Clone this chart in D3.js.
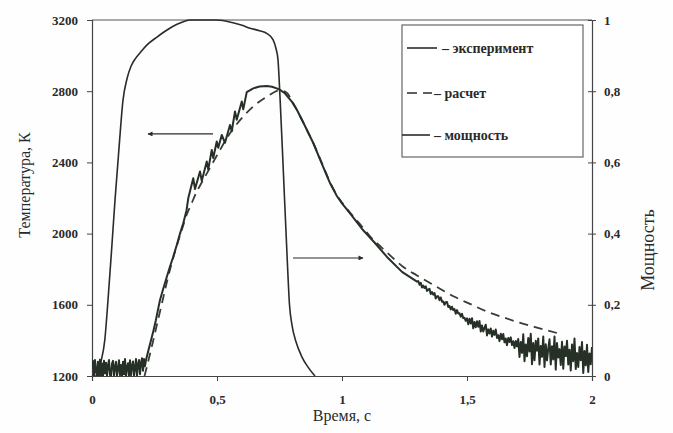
<!DOCTYPE html>
<html><head><meta charset="utf-8">
<script src="https://cdn.jsdelivr.net/npm/d3@7"></script>
<style>body{margin:0;background:#fff}svg{display:block}text{font-family:"Liberation Serif","Times New Roman",serif;fill:#2a2a2a}</style>
</head><body><svg id="c" width="673" height="433"></svg>
<script>
// ---- data ----
const xTicks = [0, 0.5, 1, 1.5, 2];
const tempTicks = [1200, 1600, 2000, 2400, 2800, 3200];
const powerTicks = [0, 0.2, 0.4, 0.6, 0.8, 1];

// power (right axis)
const powerT = [0, 0.024, 0.036, 0.051, 0.064, 0.078, 0.092, 0.108, 0.124, 0.14, 0.156, 0.175, 0.195, 0.22, 0.26, 0.3, 0.34, 0.365, 0.392, 0.45, 0.5, 0.56, 0.6, 0.632, 0.67, 0.7, 0.724, 0.736, 0.744, 0.752, 0.766, 0.781, 0.79, 0.8, 0.816, 0.84, 0.864, 0.892];
const powerV = [0, 0, 0.04, 0.1, 0.213, 0.35, 0.494, 0.64, 0.775, 0.835, 0.87, 0.893, 0.91, 0.93, 0.952, 0.972, 0.988, 0.995, 1.0, 1.0, 1.0, 0.993, 0.985, 0.977, 0.97, 0.962, 0.945, 0.92, 0.888, 0.784, 0.565, 0.326, 0.2, 0.143, 0.096, 0.053, 0.025, 0];

// experiment: start noise (t = 0 .. 0.216, step 0.004)
const expStartNoise = [1240,1285,1200,1290,1230,1195,1280,1205,1292,1200,1270,1195,1285,1215,1275,1195,1260,1290,1205,1195,1270,1285,1200,1250,1280,1195,1240,1288,1205,1262,1195,1280,1210,1295,1198,1250,1272,1195,1288,1205,1258,1282,1200,1245,1295,1195,1265,1290,1210,1275,1300,1230,1295,1255,1290];
// experiment: rise, peak and decline (explicit t, T)
const expMidT = [0.225,0.235,0.245,0.255,0.265,0.272,0.285,0.3,0.312,0.325,0.34,0.352,0.365,0.378,0.385,0.405,0.412,0.432,0.439,0.459,0.465,0.479,0.485,0.499,0.505,0.519,0.532,0.552,0.559,0.572,0.579,0.599,0.605,0.619,0.645,0.67,0.699,0.72,0.739,0.752,0.77,0.8,0.82,0.85,0.885,0.92,0.952,0.98,1.0,1.04,1.084,1.13,1.18,1.24,1.28];
const expMidV = [1340,1395,1450,1510,1580,1627,1690,1760,1815,1870,1940,2000,2058,2130,2198,2311,2250,2349,2296,2405,2360,2470,2425,2517,2482,2554,2510,2610,2575,2686,2640,2742,2698,2795,2816,2826,2829,2825,2816,2807,2790,2740,2694,2610,2509,2390,2284,2210,2170,2100,2020,1950,1869,1785,1748];
// experiment: noisy tail (t = 1.300 .. 2.000, step 0.005)
const expTail = [1730,1733,1713,1724,1697,1708,1694,1704,1678,1685,1690,1661,1672,1657,1666,1635,1648,1648,1626,1641,1617,1619,1600,1614,1616,1588,1593,1574,1589,1570,1576,1550,1570,1551,1552,1533,1550,1525,1527,1510,1524,
1490,1522,1495,1525,1468,1503,1474,1508,1477,1509,1450,1484,1450,1470,1488,1428,1462,1439,1467,1422,1454,1431,1461,1414,1429,1396,1437,1406,1436,1389,1411,1373,1414,1391,1417,1374,1395,1357,1397,1366,
1408,1307,1391,1330,1434,1283,1377,1311,1414,1338,1437,1266,1385,1289,1398,1342,1411,1265,1369,1308,1422,1251,1379,1288,1352,1406,1265,1367,1293,1422,1236,1385,1304,1351,1262,1392,1241,1366,1312,1398,1265,1348,1231,1377,1283,1410,1239,1329,1251,1363,1289,1391,1217,1341,1260,1375,1223,1327,1266,1363];

// calculation (dashed)
const calcT = [0.21,0.22,0.24,0.26,0.28,0.3,0.32,0.34,0.36,0.38,0.4,0.412,0.44,0.46,0.5,0.55,0.6,0.65,0.7,0.752,0.78,0.8,0.82,0.85,0.885,0.92,0.95,0.98,1.0,1.04,1.08,1.112,1.16,1.2,1.244,1.3,1.38,1.45,1.512,1.58,1.644,1.71,1.78,1.864];
const calcV = [1200,1255,1370,1490,1610,1730,1840,1935,2025,2110,2175,2215,2290,2340,2440,2560,2650,2720,2770,2805,2790,2745,2694,2610,2509,2395,2295,2215,2175,2105,2040,1985,1920,1868,1814,1765,1700,1645,1605,1562,1530,1500,1472,1440];

// annotation arrows (data coords: t, T)
const arrowFrom = [[0.484, 2560], [0.804, 1863]];
const arrowTo   = [[0.224, 2560], [1.084, 1863]];

const legendLabels = ["– эксперимент", "– расчет", "– мощность"];

// ---- build ----
const svg = d3.select("#c");
const ink = "#2b2b2b";
const L = 92, R = 592, T = 20, B = 376;
const x = d3.scaleLinear().domain([0, 2]).range([L, R]);
const yT = d3.scaleLinear().domain([1200, 3200]).range([B, T]);
const yP = d3.scaleLinear().domain([0, 1]).range([B, T]);
const fmt = d => String(d).replace(".", ",");

svg.append("rect").attr("width", 673).attr("height", 433).attr("fill", "#fefefe");

// top border
svg.append("line").attr("x1", L).attr("x2", R).attr("y1", T).attr("y2", T).attr("stroke", "#555").attr("stroke-width", 1);

// axes
const gx = svg.append("g").attr("transform", `translate(0,${B})`)
  .call(d3.axisBottom(x).tickValues(xTicks).tickFormat(fmt).tickSize(5).tickPadding(14));
const gl = svg.append("g").attr("transform", `translate(${L},0)`)
  .call(d3.axisLeft(yT).tickValues(tempTicks).tickFormat(d => d).tickSize(5).tickPadding(9));
const gr = svg.append("g").attr("transform", `translate(${R},0)`)
  .call(d3.axisRight(yP).tickValues(powerTicks).tickFormat(fmt).tickSize(4).tickPadding(8));
gr.selectAll(".tick line").attr("x1", -4);
[gx, gl, gr].forEach(g => {
  g.selectAll("path.domain").attr("stroke", "#444").attr("stroke-width", 1.2);
  g.selectAll(".tick line").attr("stroke", "#444");
  g.selectAll("text").style("font-family", '"Liberation Serif",serif').style("font-size", "13px").style("font-weight", "bold").attr("fill", "#3a3a3a");
});

// axis titles
svg.append("text").attr("transform", "translate(30,185) rotate(-90)").attr("text-anchor", "middle")
  .style("font-size", "16px").text("Температура, К");
svg.append("text").attr("x", 342).attr("y", 421).attr("text-anchor", "middle")
  .style("font-size", "16px").text("Время, с");
svg.append("text").attr("transform", "translate(654,250) rotate(-90)").attr("text-anchor", "middle")
  .style("font-size", "18px").text("Мощность");

// clip
svg.append("clipPath").attr("id", "clip").append("rect").attr("x", L).attr("y", T - 2).attr("width", R - L).attr("height", B - T + 2);
const plot = svg.append("g").attr("clip-path", "url(#clip)");

// series assembly
const expData = [];
expStartNoise.forEach((v, i) => expData.push([i * 0.004, v]));
expMidT.forEach((t, i) => expData.push([t, expMidV[i]]));
expTail.forEach((v, i) => expData.push([1.3 + i * 0.005, v]));
const calcData = calcT.map((t, i) => [t, calcV[i]]);
const powData = powerT.map((t, i) => [t, powerV[i]]);

const lineT = d3.line().x(d => x(d[0])).y(d => yT(Math.max(1200, d[1])));
const lineP = d3.line().x(d => x(d[0])).y(d => yP(d[1])).curve(d3.curveMonotoneX);
const lineC = d3.line().x(d => x(d[0])).y(d => yT(d[1])).curve(d3.curveMonotoneX);

plot.append("path").datum(powData).attr("d", lineP).attr("fill", "none").attr("stroke", ink).attr("stroke-width", 1.6);
plot.append("path").datum(calcData).attr("d", lineC).attr("fill", "none").attr("stroke", "#3a3a3a").attr("stroke-width", 1.8).attr("stroke-dasharray", "9,6");
plot.append("path").datum(expData).attr("d", lineT).attr("fill", "none").attr("stroke", "#263026").attr("stroke-width", 2).attr("stroke-linejoin", "round");

// arrows
const defs = svg.append("defs");
defs.append("marker").attr("id", "ah").attr("viewBox", "0 0 10 10").attr("refX", 9).attr("refY", 5)
  .attr("markerWidth", 7).attr("markerHeight", 5).attr("markerUnits", "userSpaceOnUse").attr("orient", "auto")
  .append("path").attr("d", "M0,0L10,5L0,10z").attr("fill", ink);
arrowFrom.forEach((f, i) => {
  svg.append("line").attr("x1", x(f[0])).attr("y1", yT(f[1])).attr("x2", x(arrowTo[i][0])).attr("y2", yT(arrowTo[i][1]))
    .attr("stroke", ink).attr("stroke-width", 1.2).attr("marker-end", "url(#ah)");
});

// legend
const lg = svg.append("g");
lg.append("rect").attr("x", 402).attr("y", 25).attr("width", 181).attr("height", 132).attr("fill", "#fff").attr("stroke", "#666").attr("stroke-width", 1.2);
const rows = [48, 93, 135];
lg.append("line").attr("x1", 407).attr("x2", 437).attr("y1", rows[0]).attr("y2", rows[0]).attr("stroke", ink).attr("stroke-width", 1.6);
lg.append("line").attr("x1", 407).attr("x2", 432).attr("y1", rows[1]).attr("y2", rows[1]).attr("stroke", ink).attr("stroke-width", 1.6).attr("stroke-dasharray", "10,6");
lg.append("line").attr("x1", 402).attr("x2", 430).attr("y1", rows[2]).attr("y2", rows[2]).attr("stroke", ink).attr("stroke-width", 1.6);
const lx = [442, 434, 434];
legendLabels.forEach((s, i) => {
  lg.append("text").attr("x", lx[i]).attr("y", rows[i] + 4.5).style("font-size", "14px").style("font-weight", "bold").attr("fill", "#333").text(s);
});
</script></body></html>
